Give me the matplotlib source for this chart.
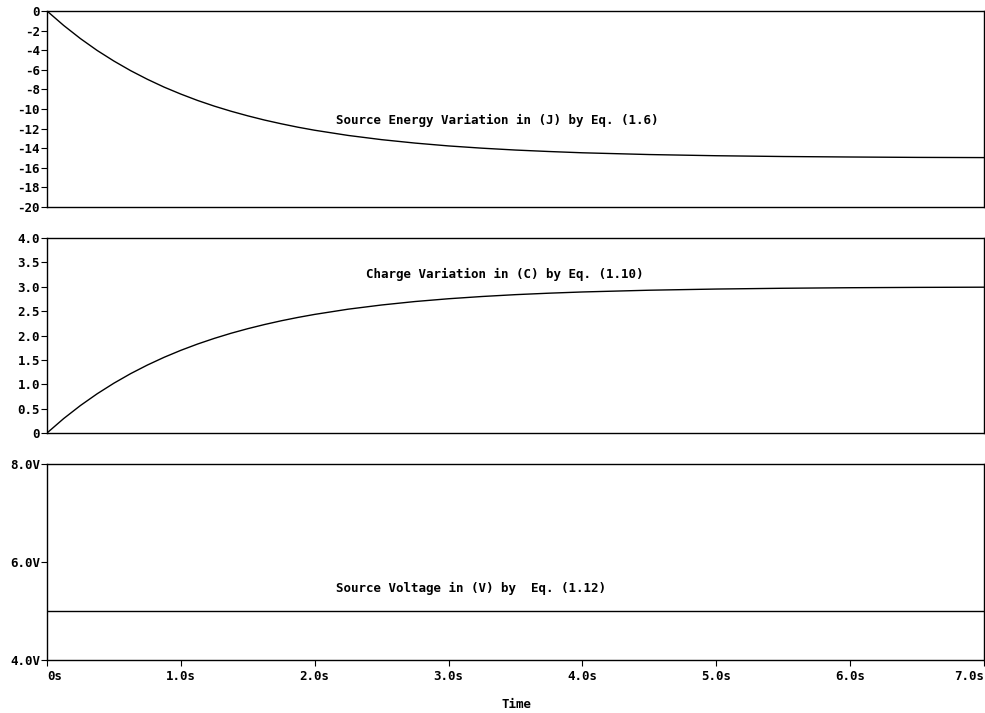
import matplotlib
matplotlib.use('Agg')
import matplotlib.pyplot as plt

# values
t = [0, 0.125, 0.25, 0.375, 0.5, 0.625, 0.75, 0.875, 1.0, 1.125, 1.25, 1.375, 1.5, 1.625,
     1.75, 1.875, 2.0, 2.25, 2.5, 2.75, 3.0, 3.25, 3.5, 3.75, 4.0, 4.5, 5.0, 5.5, 6.0, 6.5, 7.0]
energy = [0, -1.48, -2.82, -4.03, -5.11, -6.09, -6.97, -7.77, -8.48, -9.13, -9.71, -10.23,
          -10.70, -11.13, -11.51, -11.86, -12.17, -12.70, -13.13, -13.48, -13.77, -14.00,
          -14.19, -14.34, -14.47, -14.65, -14.77, -14.85, -14.90, -14.94, -14.96]
charge = [0, 0.297, 0.564, 0.805, 1.022, 1.218, 1.394, 1.553, 1.696, 1.825, 1.941, 2.046,
          2.140, 2.225, 2.302, 2.371, 2.433, 2.540, 2.626, 2.697, 2.754, 2.800,
          2.838, 2.868, 2.893, 2.929, 2.953, 2.969, 2.980, 2.987, 2.991]
voltage = [5.0] * len(t)

energy_ticks = list(range(0, -21, -2))
charge_ticks = [0, 0.5, 1.0, 1.5, 2.0, 2.5, 3.0, 3.5, 4.0]
charge_labels = ['0', '0.5', '1.0', '1.5', '2.0', '2.5', '3.0', '3.5', '4.0']
volt_ticks = [4.0, 6.0, 8.0]
volt_labels = ['4.0V', '6.0V', '8.0V']
time_ticks = [0, 1, 2, 3, 4, 5, 6, 7]
time_labels = ['0s', '1.0s', '2.0s', '3.0s', '4.0s', '5.0s', '6.0s', '7.0s']

font = dict(family='DejaVu Sans Mono', fontweight='bold', fontsize=9)

fig = plt.figure(figsize=(9.85, 7.13), dpi=100)
L, W = 0.0477, 0.9513
ax1 = fig.add_axes([L, 0.7097, W, 0.2749])
ax2 = fig.add_axes([L, 0.3927, W, 0.2735])
ax3 = fig.add_axes([L, 0.0743, W, 0.2749])

for ax in (ax1, ax2, ax3):
    ax.set_xlim(0, 7)
    ax.tick_params(axis='y', length=4, width=0.8, pad=1)
    for s in ax.spines.values():
        s.set_linewidth(1.0)

ax1.plot(t, energy, color='black', lw=1.0)
ax1.set_ylim(-20, 0)
ax1.set_yticks(energy_ticks)
ax1.set_yticklabels([str(v) for v in energy_ticks], **font)
ax1.set_xticks([])
ax1.text(0.481, 0.44, 'Source Energy Variation in (J) by Eq. (1.6)', transform=ax1.transAxes,
         ha='center', va='center', **font)

ax2.plot(t, charge, color='black', lw=1.0)
ax2.set_ylim(0, 4.0)
ax2.set_yticks(charge_ticks)
ax2.set_yticklabels(charge_labels, **font)
ax2.set_xticks([])
ax2.text(0.489, 0.815, 'Charge Variation in (C) by Eq. (1.10)', transform=ax2.transAxes,
         ha='center', va='center', **font)

ax3.plot(t, voltage, color='black', lw=1.0)
ax3.set_ylim(4.0, 8.0)
ax3.set_yticks(volt_ticks)
ax3.set_yticklabels(volt_labels, **font)
ax3.set_xticks(time_ticks)
ax3.set_xticklabels(time_labels, **font)
ax3.get_xticklabels()[-1].set_ha('right')
ax3.get_xticklabels()[0].set_ha('left')
ax3.tick_params(axis='x', length=4, width=0.8, pad=3)
ax3.text(0.452, 0.365, 'Source Voltage in (V) by  Eq. (1.12)', transform=ax3.transAxes,
         ha='center', va='center', **font)

fig.text(516 / 985, 1 - 705 / 713, 'Time', ha='center', va='center', **font)

fig.savefig('out.png', dpi=100)
